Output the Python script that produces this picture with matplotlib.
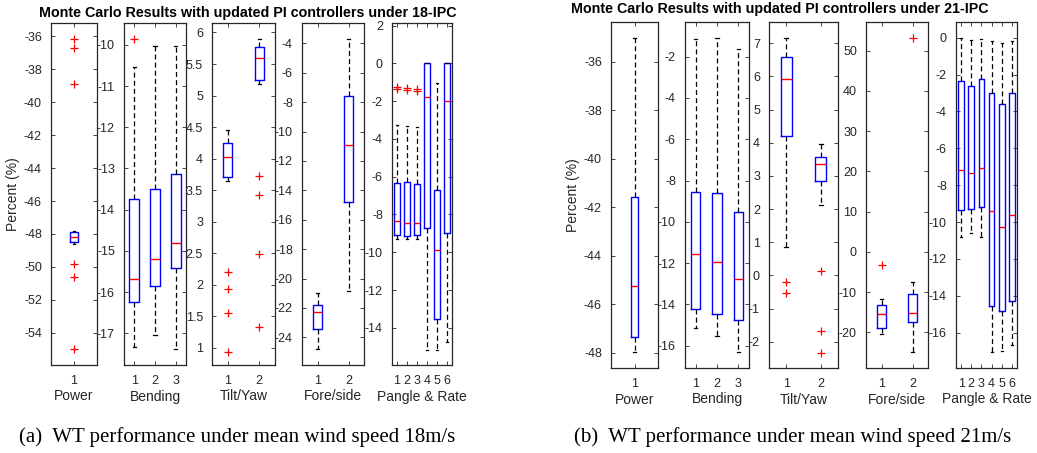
import matplotlib
matplotlib.use("Agg")
import matplotlib.pyplot as plt

# every box is [lower whisker, q1, median, q3, upper whisker]
power_18 = [[-48.6, -48.5, -48.16, -47.9, -47.85]]
power_18_out = [[-36.2, -36.7, -38.9, -49.8, -50.6, -55.0]]
bend_18 = [[-17.33, -16.24, -15.69, -13.74, -10.53],
           [-17.04, -15.86, -15.19, -13.50, -10.02],
           [-17.37, -15.41, -14.81, -13.13, -10.04]]
bend_18_out = [[-9.85], [], []]
tilt_18 = [[3.64, 3.71, 4.03, 4.25, 4.46],
           [5.19, 5.25, 5.59, 5.77, 5.90]]
tilt_18_out = [[2.2, 1.94, 1.55, 0.94], [3.73, 3.43, 2.49, 1.33]]
fore_18 = [[-24.82, -23.41, -22.28, -21.80, -20.99],
           [-20.85, -14.82, -10.90, -7.57, -3.69]]
fore_18_out = [[], []]
pangle_18 = [[-9.30, -9.09, -8.33, -6.31, -3.28],
             [-9.30, -9.13, -8.44, -6.30, -3.30],
             [-9.30, -9.10, -8.44, -6.40, -3.37],
             [-15.16, -8.72, -1.80, 0.0, 0.0],
             [-15.16, -13.56, -9.88, -6.68, -1.06],
             [-14.76, -8.96, -1.99, 0.0, 0.0]]
pangle_18_out = [[-1.24, -1.38], [-1.30, -1.43], [-1.33, -1.47], [], [], []]

power_21 = [[-47.99, -47.35, -45.26, -41.56, -35.02]]
power_21_out = [[]]
bend_21 = [[-15.16, -14.24, -11.54, -8.57, -1.14],
           [-15.55, -14.48, -11.96, -8.59, -1.09],
           [-16.32, -14.77, -12.77, -9.51, -1.63]]
bend_21_out = [[], [], []]
tilt_21 = [[0.86, 4.20, 5.91, 6.60, 7.17],
           [2.11, 2.84, 3.35, 3.58, 3.95]]
tilt_21_out = [[-0.19, -0.53], [0.13, -1.67, -2.33]]
fore_21 = [[-20.46, -18.90, -15.57, -13.25, -11.60],
           [-25.00, -17.55, -15.30, -10.43, -7.45]]
fore_21_out = [[-3.3], [53.2]]
pangle_21 = [[-10.83, -9.36, -7.17, -2.35, -0.03],
             [-10.61, -9.31, -7.34, -2.64, -0.10],
             [-10.83, -9.20, -7.05, -2.26, -0.05],
             [-17.06, -14.54, -9.38, -3.02, -0.16],
             [-16.99, -14.83, -10.25, -3.60, -0.30],
             [-16.66, -14.31, -9.62, -3.02, -0.16]]
pangle_21_out = [[], [], [], [], [], []]

group_names = ["Power", "Bending", "Tilt/Yaw", "Fore/side", "Pangle & Rate"]
title_18 = "Monte Carlo Results with updated PI controllers under 18-IPC"
title_21 = "Monte Carlo Results with updated PI controllers under 21-IPC"
caption_18 = "(a)  WT performance under mean wind speed 18m/s"
caption_21 = "(b)  WT performance under mean wind speed 21m/s"

W, H = 1037, 453
GRAY = "#262626"
plt.rcParams["font.family"] = ["Liberation Sans", "DejaVu Sans"]


def px_axes(fig, x0, x1, top, bottom):
    return fig.add_axes([x0 / W, (H - bottom) / H, (x1 - x0) / W, (bottom - top) / H])


def draw_panel(ax, boxes, outliers, width, ylim, yticks, xlabel):
    stats = []
    for b, out in zip(boxes, outliers):
        stats.append(dict(whislo=b[0], q1=b[1], med=b[2], q3=b[3], whishi=b[4], fliers=out))
    n = len(stats)
    pos = list(range(1, n + 1))
    capw = width * 0.35
    ax.bxp(stats, positions=pos, widths=width, capwidths=[capw] * n,
           showfliers=True, manage_ticks=False,
           boxprops=dict(color="blue", linewidth=1.0),
           medianprops=dict(color="red", linewidth=1.0),
           whiskerprops=dict(color="black", linewidth=0.9, linestyle=(0, (4, 2.5))),
           capprops=dict(color="black", linewidth=0.9),
           flierprops=dict(marker="+", markeredgecolor="red", markersize=6,
                           markeredgewidth=0.9, linestyle="none"))
    ax.set_xlim(0.5, n + 0.5)
    ax.set_ylim(*ylim)
    ax.set_xticks(pos)
    ax.set_xticklabels([str(p) for p in pos])
    ax.set_yticks(yticks)
    ax.set_yticklabels([("%g" % t) for t in yticks])
    ax.tick_params(direction="in", length=3, width=0.6, top=True, right=True,
                   labelsize=9, colors=GRAY, pad=6.5)
    ax.tick_params(axis="x", pad=7)
    for s in ax.spines.values():
        s.set_color(GRAY)
        s.set_linewidth(0.9)
    ax.set_xlabel(xlabel, fontsize=10, color=GRAY, labelpad=2)


def arange(a, b, step):
    vals = []
    v = a
    while v <= b + 1e-9:
        vals.append(round(v, 3))
        v += step
    return vals


fig = plt.figure(figsize=(W / 100, H / 100), dpi=100)

# 18 m/s group
top, bot = 23, 365
ax = px_axes(fig, 51, 97, top, bot)
draw_panel(ax, power_18, power_18_out, 0.17, (-55.95, -35.2), arange(-54, -36, 2), group_names[0])
ax.set_ylabel("Percent (%)", fontsize=10, color=GRAY, labelpad=3)
ax = px_axes(fig, 124, 186, top, bot)
draw_panel(ax, bend_18, bend_18_out, 0.48, (-17.77, -9.47), arange(-17, -10, 1), group_names[1])
ax = px_axes(fig, 212, 275, top, bot)
draw_panel(ax, tilt_18, tilt_18_out, 0.3, (0.73, 6.15), arange(1, 6, 0.5), group_names[2])
ax = px_axes(fig, 302, 364, top, bot)
draw_panel(ax, fore_18, fore_18_out, 0.3, (-25.88, -2.62), arange(-24, -4, 2), group_names[3])
ax = px_axes(fig, 392, 452, top, bot)
draw_panel(ax, pangle_18, pangle_18_out, 0.6, (-15.97, 2.14), arange(-14, 2, 2), group_names[4])

# 21 m/s group
top, bot = 22, 368
ax = px_axes(fig, 611, 658, top, bot)
draw_panel(ax, power_21, power_21_out, 0.16, (-48.63, -34.35), arange(-48, -36, 2), group_names[0])
ax.set_ylabel("Percent (%)", fontsize=10, color=GRAY, labelpad=3)
ax = px_axes(fig, 685, 749, top, bot)
draw_panel(ax, bend_21, bend_21_out, 0.45, (-17.08, -0.32), arange(-16, -2, 2), group_names[1])
ax = px_axes(fig, 769, 838, top, bot)
draw_panel(ax, tilt_21, tilt_21_out, 0.31, (-2.79, 7.64), arange(-2, 7, 1), group_names[2])
ax = px_axes(fig, 866, 928, top, bot)
draw_panel(ax, fore_21, fore_21_out, 0.32, (-28.87, 57.13), arange(-20, 50, 10), group_names[3])
ax = px_axes(fig, 956, 1017, top, bot)
draw_panel(ax, pangle_21, pangle_21_out, 0.55, (-17.92, 0.85), arange(-16, 0, 2), group_names[4])

fig.text(247.5 / W, 1 - 13 / H, title_18, ha="center", va="center", fontsize=10.3, fontweight="bold")
fig.text(780 / W, 1 - 9 / H, title_21, ha="center", va="center", fontsize=10.3, fontweight="bold")
fig.text(237 / W, 1 - 437 / H, caption_18, ha="center", va="center", fontsize=15,
         family=["Liberation Serif", "DejaVu Serif"])
fig.text(793 / W, 1 - 437 / H, caption_21, ha="center", va="center", fontsize=15,
         family=["Liberation Serif", "DejaVu Serif"])

fig.savefig("out.png", dpi=100)
